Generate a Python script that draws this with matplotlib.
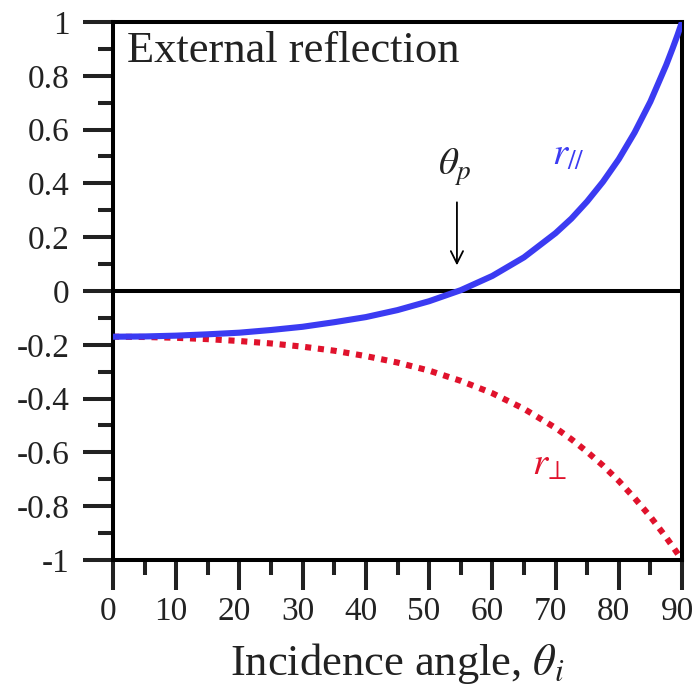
import matplotlib
matplotlib.use('Agg')
import matplotlib.pyplot as plt
import matplotlib.ticker as ticker
from matplotlib.transforms import ScaledTranslation

plt.rcParams['font.family'] = ['Liberation Serif', 'DejaVu Serif']
plt.rcParams['mathtext.fontset'] = 'stix'
plt.rcParams['axes.unicode_minus'] = False

# values
angle = [0, 5, 10, 15, 20, 25, 30, 35, 40, 45, 50, 55, 60, 65, 70, 72.5, 75, 77.5,
         80, 82.5, 85, 87.5, 88.5, 89.3, 90]
r_par = [-0.170, -0.169, -0.166, -0.161, -0.155, -0.145, -0.133, -0.116, -0.097,
         -0.071, -0.038, 0.003, 0.056, 0.125, 0.215, 0.269, 0.333, 0.406,
         0.490, 0.589, 0.704, 0.840, 0.901, 0.952, 1.0]
r_perp = [-0.170, -0.171, -0.174, -0.179, -0.186, -0.195, -0.207, -0.222, -0.242,
          -0.266, -0.296, -0.334, -0.380, -0.438, -0.509, -0.551, -0.598, -0.649,
          -0.706, -0.770, -0.839, -0.916, -0.949, -0.976, -1.0]

fig = plt.figure(figsize=(6.95, 7.0), dpi=100)
ax = fig.add_axes([0.1626, 0.2, 0.8187, 0.7686])

ax.axhline(0, color='black', linewidth=2.9, zorder=1)
ax.plot(angle, r_par, color='#3b3bf2', linewidth=4.4, solid_capstyle='butt', zorder=3)
ax.plot(angle, r_perp, color='#e0122c', linewidth=4.4, linestyle=(0, (1, 1.1)),
        dash_capstyle='butt', zorder=2)

ax.set_xlim(0, 90)
ax.set_ylim(-1, 1)

for s in ax.spines.values():
    s.set_linewidth(2.9)

ax.xaxis.set_major_locator(ticker.MultipleLocator(10))
ax.xaxis.set_minor_locator(ticker.MultipleLocator(5))
ax.yaxis.set_major_locator(ticker.MultipleLocator(0.2))
ax.yaxis.set_minor_locator(ticker.MultipleLocator(0.1))
ax.yaxis.set_major_formatter(ticker.FuncFormatter(lambda v, p: '%g' % round(v, 1)))

ax.tick_params(which='major', direction='out', length=21.5, width=2.9, labelsize=24, colors='#222222')
ax.tick_params(which='minor', direction='out', length=11, width=2.9, colors='#222222')
ax.tick_params(axis='y', which='major', pad=10)
ax.tick_params(axis='x', which='major', pad=5)

shift = ScaledTranslation(-5 / 100, 0, fig.dpi_scale_trans)
for lab in ax.get_xticklabels():
    lab.set_transform(lab.get_transform() + shift)

ax.set_xlabel(r'Incidence angle, $\theta_i$', fontsize=32, labelpad=10, color='#222222')

ax.text(2.2, 0.851, 'External reflection', fontsize=32, va='baseline', ha='left', color='#222222')

ax.text(54.1, 0.431, r'$\theta_p$', fontsize=28, va='baseline', ha='center', color='#222222')
ax.annotate('', xy=(54.4, 0.085), xytext=(54.4, 0.34),
            arrowprops=dict(arrowstyle='->', color='black', linewidth=1.3, mutation_scale=22))

ax.text(69.4, 0.468, r'$r_{//}$', fontsize=28, color='#3b3bf2', va='baseline', ha='left')
ax.text(66.3, -0.684, r'$r_{\!\perp}$', fontsize=28, color='#e0122c', va='baseline', ha='left')

fig.savefig('out.png', dpi=100)
